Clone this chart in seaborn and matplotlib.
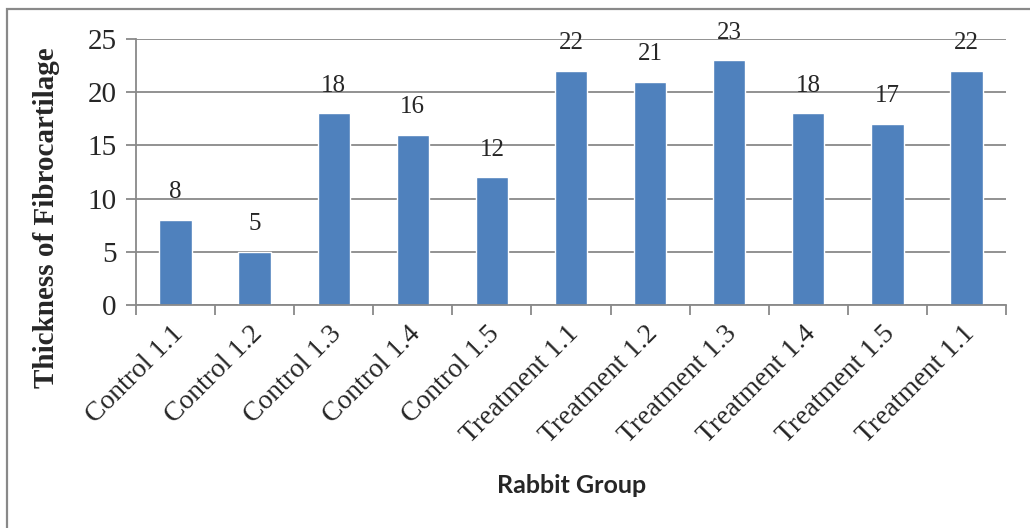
import pandas as pd
import matplotlib.pyplot as plt
import matplotlib.transforms as mtransforms
import seaborn as sns
from matplotlib.patches import Rectangle

sns.set_theme(style='white', rc={'axes.facecolor': 'white'})
plt.rcParams['font.family'] = ['Liberation Serif', 'DejaVu Serif']

# Data
groups = ['Control 1.1', 'Control 1.2', 'Control 1.3', 'Control 1.4', 'Control 1.5',
          'Treatment 1.1', 'Treatment 1.2', 'Treatment 1.3', 'Treatment 1.4', 'Treatment 1.5',
          'Treatment 1.1']
thickness = [8, 5, 18, 16, 12, 22, 21, 23, 18, 17, 22]
y_ticks = [0, 5, 10, 15, 20, 25]

# positions keep the two "Treatment 1.1" bars apart
df = pd.DataFrame({'pos': list(range(len(groups))), 'thickness': thickness})

grey = '#898989'
fig = plt.figure(figsize=(10.3, 5.28), dpi=100)
ax = fig.add_axes([136/1030, 1 - 305/528, 870/1030, 266/528])

sns.barplot(data=df, x='pos', y='thickness', color='#4F81BD', saturation=1,
            width=0.41, ax=ax)

ax.bar_label(ax.containers[0], padding=12, fontsize=18)

ax.set_ylim(0, 25)
ax.set_xlim(-0.5, len(groups) - 0.5)
ax.set_yticks(y_ticks)
ax.yaxis.grid(True, color=grey, linewidth=1.3)
ax.set_axisbelow(True)

# tick marks at category boundaries, labels at centres
ax.set_xticks([i - 0.5 for i in range(len(groups) + 1)])
ax.set_xticklabels([])
ax.set_xticks(list(range(len(groups))), minor=True)
ax.set_xticklabels(groups, minor=True, rotation=45, ha='right', va='center',
                   rotation_mode='anchor', fontsize=20)
ax.tick_params(axis='x', which='major', length=7, width=1.3, color=grey, direction='out', bottom=True)
ax.tick_params(axis='x', which='minor', length=0, pad=18)
ax.tick_params(axis='y', length=7, width=1.3, color=grey, direction='out', left=True,
               labelsize=21, pad=7)

# nudge rotated labels a little to the right, as in the reference
shift = mtransforms.ScaledTranslation(4/100, 0, fig.dpi_scale_trans)
for lab in ax.get_xticklabels(minor=True):
    lab.set_transform(lab.get_transform() + shift)

for side in ['top', 'right']:
    ax.spines[side].set_visible(False)
for side in ['left', 'bottom']:
    ax.spines[side].set_color(grey)
    ax.spines[side].set_linewidth(1.3)

ax.set_ylabel('Thickness of Fibrocartilage', fontsize=21, fontweight='bold')
ax.yaxis.set_label_coords(-0.087, 0.327)
ax.set_xlabel('Rabbit Group', fontsize=18, fontweight='bold', family=['Lato', 'DejaVu Sans'],
              va='center')
ax.xaxis.set_label_coords(0.501, -0.677)

# chart border (cropped on the right and bottom in the reference)
fig.patches.append(Rectangle((7/1030, -0.05), 1.2, 1.05 - 9/528, transform=fig.transFigure,
                             fill=False, edgecolor=grey, linewidth=1.6))

plt.savefig('out.png', dpi=100)
